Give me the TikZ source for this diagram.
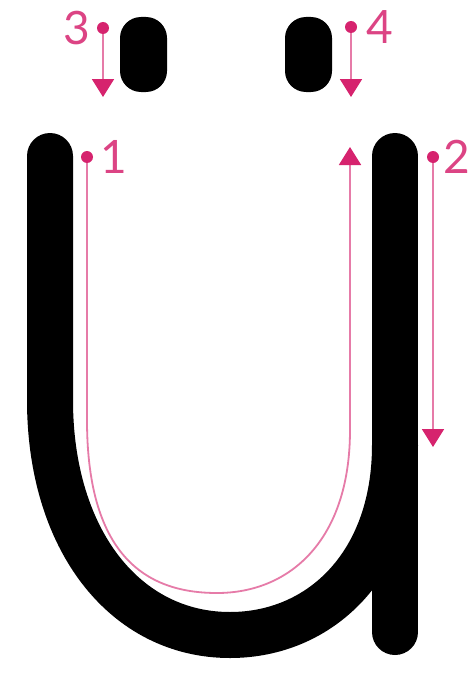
\documentclass[tikz,border=0pt]{standalone}
\usepackage{fontspec}
\setmainfont{Lato}
\usepackage{tikz}
\usetikzlibrary{arrows.meta, positioning}

\definecolor{guidepink}{RGB}{214,35,110}

\begin{document}
\begin{tikzpicture}[
        x=1pt, y=-1pt,
        letter/.style={draw=black, line width=46pt, line cap=round},
        blob/.style={fill=black, rounded corners=21pt},
        startdot/.style={circle, fill=guidepink, inner sep=0pt, minimum size=12pt},
        guide/.style={draw=guidepink!60, line width=1.8pt},
        arrow/.style={guide, -{Triangle[width=22pt, length=18pt, color=guidepink]}},
        num/.style={text=guidepink!85, inner sep=0pt, font=\fontsize{46}{46}\selectfont}
    ]

    \clip (0,0) rectangle (473,677);
    \fill[white] (0,0) rectangle (473,677);

    % the letter
    \draw[letter] (50,156) -- (50,400) .. controls (50,540) and (125,635) .. (230,635)
        .. controls (320,635) and (395,565) .. (395,445);
    \draw[letter] (395,156) -- (395,632);
    \fill[blob] (120,17) rectangle (167,92);
    \fill[blob] (285,17) rectangle (332,92);

    % start points and labels
    \node (dot1) [startdot] at (87,157) {};
    \node (dot2) [startdot] at (433,157) {};
    \node (dot3) [startdot] at (103,28) {};
    \node (dot4) [startdot] at (351,27) {};

    \node (num1) [num, right=7pt of dot1] {1};
    \node (num2) [num, right=4pt of dot2] {2};
    \node (num3) [num, left=6pt of dot3] {3};
    \node (num4) [num, right=9pt of dot4] {4};

    \coordinate (tip1) at (350,147);
    \coordinate (tip2) at (433,447);
    \coordinate (tip3) at (103,97);
    \coordinate (tip4) at (351,97);

    \draw [arrow] (dot1) -- (87,420) .. controls (87,560) and (150,593) .. (217,593)
        .. controls (290,593) and (350,540) .. (350,430) -- (tip1);
    \draw [arrow] (dot2) -- (tip2);
    \draw [arrow] (dot3) -- (tip3);
    \draw [arrow] (dot4) -- (tip4);

\end{tikzpicture}
\end{document}
